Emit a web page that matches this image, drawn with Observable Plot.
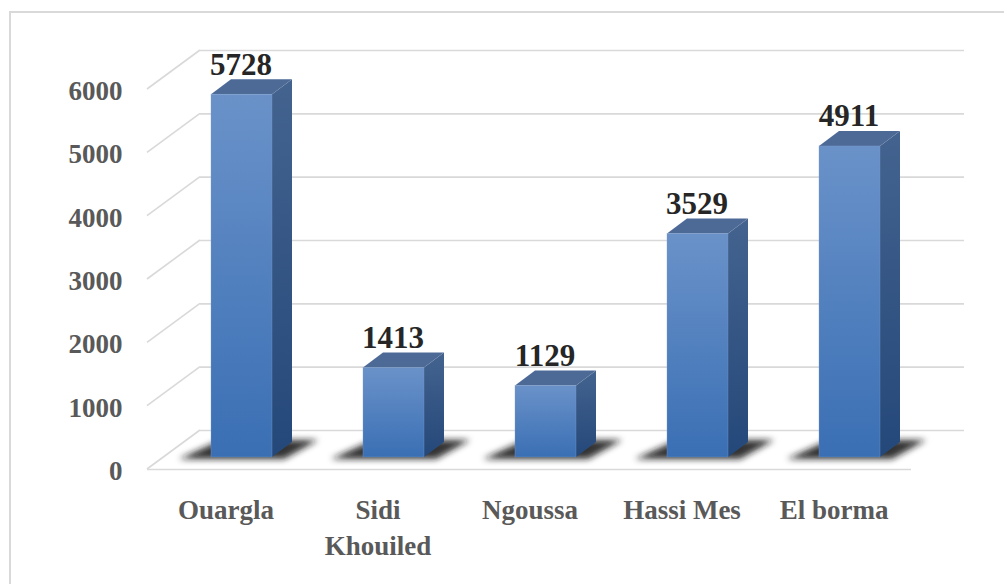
<!DOCTYPE html>
<html>
<head>
<meta charset="utf-8">
<script src="https://cdn.jsdelivr.net/npm/d3@7"></script>
<script src="https://cdn.jsdelivr.net/npm/@observablehq/plot@0.6"></script>
<style>
  html, body { margin: 0; padding: 0; background: #fff; overflow: hidden; font-family: "Liberation Serif"; font-weight: bold; }
  #wrap { position: relative; width: 1004px; height: 584px; }
  #frame { position: absolute; left: 9px; top: 11px; width: 1100px; height: 700px; border: 2px solid #d9d9d9; box-sizing: border-box; }
  #chart { position: absolute; left: 0; top: 0; }
</style>
</head>
<body>
<div id="wrap"><div id="frame"></div><div id="chart"></div></div>
<script>
// ---- data ----
const categories = ["Ouargla", "Sidi Khouiled", "Ngoussa", "Hassi Mes", "El borma"];
const categoryLabels = ["Ouargla", "Sidi\nKhouiled", "Ngoussa", "Hassi Mes", "El borma"];
const values = [5728, 1413, 1129, 3529, 4911];
const yTicks = [0, 1000, 2000, 3000, 4000, 5000, 6000];

const data = categories.map((c, i) => ({cat: c, value: values[i]}));

// ---- 3D look ----
const WALL = [53, -39];      // depth of the floor / side wall
const OFF = [16, -12];       // bars sit this far back on the floor
const BAR = [20, -15];       // depth of each bar
const svgNS = "http://www.w3.org/2000/svg";
function el(tag, attrs) {
  const e = document.createElementNS(svgNS, tag);
  for (const k in attrs) e.setAttribute(k, attrs[k]);
  return e;
}
function bw(x) { const b = x.bandwidth; return typeof b === "function" ? b() : b; }
function pts(a) { return a.map(p => p.join(",")).join(" "); }

// defs (gradients + blur)
function defsMark() {
  const g = el("g", {});
  const defs = el("defs", {});
  const grads = {
    gFront: [["0%", "#6a92c9"], ["100%", "#3a6fb4"]],
    gSide: [["0%", "#44638f"], ["100%", "#24487a"]]
  };
  for (const id in grads) {
    const lg = el("linearGradient", {id, x1: 0, y1: 0, x2: 0, y2: 1});
    grads[id].forEach(([o, c]) => lg.appendChild(el("stop", {offset: o, "stop-color": c})));
    defs.appendChild(lg);
  }
  const f = el("filter", {id: "blur", x: "-30%", y: "-60%", width: "160%", height: "220%"});
  f.appendChild(el("feGaussianBlur", {stdDeviation: 3.2}));
  defs.appendChild(f);
  g.appendChild(defs);
  return g;
}

// left side wall diagonals
function sideWall(index, scales, values, dims) {
  const g = el("g", {stroke: "#d9d9d9", "stroke-width": 1.6, fill: "none"});
  const x0 = dims.marginLeft;
  for (const t of yTicks) {
    const y = scales.y(t);
    g.appendChild(el("line", {x1: x0, y1: y, x2: x0 + WALL[0], y2: y + WALL[1]}));
  }
  return g;
}

// floor shadows
function shadows(index, scales) {
  const g = el("g", {fill: "#1a1a1a", "fill-opacity": 0.88, filter: "url(#blur)"});
  const w = bw(scales.x);
  const yb = scales.y(0) + OFF[1];
  for (const d of data) {
    const fl = scales.x(d.cat) + OFF[0], fr = fl + w;
    g.appendChild(el("polygon", {points: pts([
      [fl - 32, yb + 2], [fr + 12, yb + 2], [fr + BAR[0] + 26, yb + BAR[1] - 2], [fl + BAR[0] - 10, yb + BAR[1] - 2]
    ])}));
  }
  return g;
}

// side and top faces of bars
function barSides(index, scales) {
  const g = el("g", {});
  const w = bw(scales.x);
  for (const d of data) {
    const fl = scales.x(d.cat) + OFF[0], fr = fl + w;
    const yt = scales.y(d.value) + OFF[1], yb = scales.y(0) + OFF[1];
    g.appendChild(el("polygon", {fill: "url(#gSide)", points: pts([
      [fr, yt], [fr + BAR[0], yt + BAR[1]], [fr + BAR[0], yb + BAR[1]], [fr, yb]
    ])}));
    g.appendChild(el("polygon", {fill: "#4d6a97", points: pts([
      [fl, yt], [fl + BAR[0], yt + BAR[1]], [fr + BAR[0], yt + BAR[1]], [fr, yt]
    ])}));
  }
  return g;
}

const plot = Plot.plot({
  width: 1004,
  height: 584,
  marginLeft: 147,
  marginRight: 93,
  marginTop: 89,
  marginBottom: 115,
  style: {background: "transparent", overflow: "visible", fontFamily: "Liberation Serif"},
  x: {domain: categories, paddingInner: 0.6, paddingOuter: 0.3, label: null},
  y: {domain: [0, 6000], label: null},
  marks: [
    defsMark,
    Plot.ruleY(yTicks, {dx: WALL[0], dy: WALL[1], stroke: "#d9d9d9", strokeWidth: 1.6}),
    sideWall,
    Plot.ruleY([0], {stroke: "#d9d9d9", strokeWidth: 1.6}),
    shadows,
    barSides,
    Plot.barY(data, {x: "cat", y: "value", dx: OFF[0], dy: OFF[1], fill: "url(#gFront)", stroke: "#7f9fcc", strokeWidth: 0.6, strokeOpacity: 0.6}),
    Plot.text(data, {x: "cat", y: "value", text: d => String(d.value), dx: 15, dy: -42, fontSize: 31, fontFamily: "Liberation Serif", fill: "#262626", lineAnchor: "middle"}),
    Plot.axisY({ticks: yTicks, tickSize: 0, tickPadding: 25, dy: 2, fontSize: 27, fontFamily: "Liberation Serif", color: "#595959", tickFormat: d => String(d), label: null}),
    Plot.axisX({tickSize: 0, tickPadding: 25, fontSize: 27, fontFamily: "Liberation Serif", lineHeight: 1.3, color: "#595959", tickFormat: (d) => categoryLabels[categories.indexOf(d)], label: null})
  ]
});
document.getElementById("chart").appendChild(plot);
</script>
</body>
</html>
